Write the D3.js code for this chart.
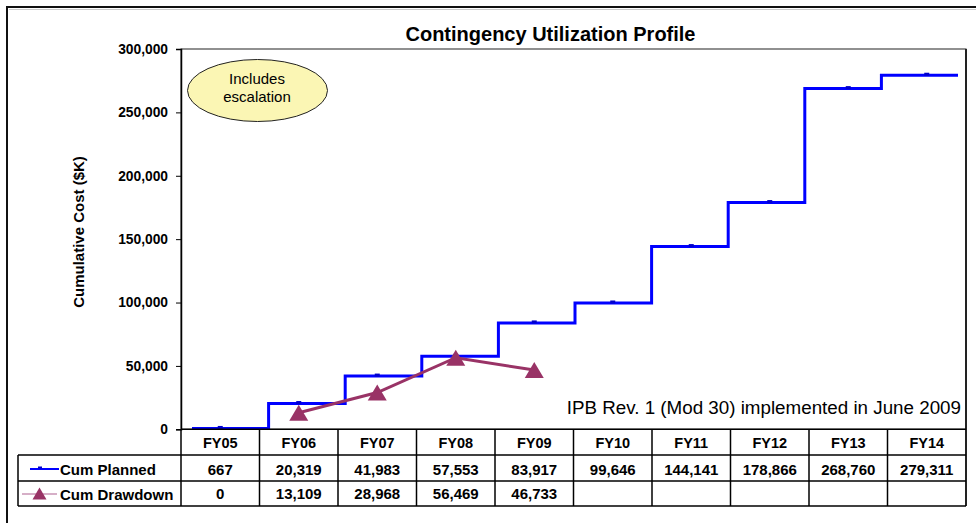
<!DOCTYPE html>
<html><head><meta charset="utf-8">
<script src="https://cdn.jsdelivr.net/npm/d3@7"></script>
<style>body{margin:0;background:#fff}svg{display:block}text{font-family:"Liberation Sans",Arial,sans-serif}</style>
</head><body><svg id="c" width="976" height="523"></svg>
<script>
const categories = ["FY05","FY06","FY07","FY08","FY09","FY10","FY11","FY12","FY13","FY14"];
const cumPlanned = [667,20319,41983,57553,83917,99646,144141,178866,268760,279311];
const cumDrawdown = [0,13109,28968,56469,46733,null,null,null,null,null];
const yTicks = [0,50000,100000,150000,200000,250000,300000];
const seriesNames = ["Cum Planned","Cum Drawdown"];
const title = "Contingency Utilization Profile";
const yLabel = "Cumulative Cost ($K)";
const noteText = "IPB Rev. 1 (Mod 30) implemented in June 2009";
const calloutLines = ["Includes","escalation"];

const svg = d3.select("#c");
const L = 181, R = 966, T = 49, B = 429.3;
const fmt = d3.format(",");

// outer chart border
svg.append("rect").attr("x",7).attr("y",7).attr("width",1000).attr("height",600)
  .attr("fill","#fff").attr("stroke","#111").attr("stroke-width",2);
svg.append("line").attr("x1",9).attr("x2",976).attr("y1",9.5).attr("y2",9.5).attr("stroke","#ccc").attr("stroke-width",1);

const x = d3.scaleBand().domain(categories).range([L,R]);
const y = d3.scaleLinear().domain([0,300000]).range([B,T]);
const xs = d3.scaleLinear().domain([0,categories.length]).range([L+11,R-8]);

// plot area border
svg.append("rect").attr("x",L).attr("y",T).attr("width",R-L).attr("height",B-T)
  .attr("fill","none").attr("stroke","#222").attr("stroke-width",1);
svg.append("line").attr("x1",R).attr("x2",R).attr("y1",T).attr("y2",506).attr("stroke","#222").attr("stroke-width",2);

// y axis
const ya = svg.append("g").attr("transform",`translate(${L},0)`)
  .call(d3.axisLeft(y).tickValues(yTicks).tickFormat(fmt).tickSize(5).tickPadding(8));
ya.select(".domain").attr("stroke","#000").attr("stroke-width",1.5);
ya.selectAll(".tick line").attr("stroke","#000");
ya.selectAll("text").attr("font-size",13.8).attr("font-weight","bold").attr("fill","#000");

svg.append("text").attr("transform",`translate(84,232) rotate(-90)`)
  .attr("text-anchor","middle").attr("font-size",15).attr("font-weight","bold").text(yLabel);

svg.append("text").attr("x",550.5).attr("y",41).attr("text-anchor","middle")
  .attr("font-size",20).attr("font-weight","bold").text(title);

// callout ellipse
svg.append("ellipse").attr("cx",257.5).attr("cy",90.5).attr("rx",70).attr("ry",31)
  .attr("fill","#fbf6b4").attr("stroke","#222").attr("stroke-width",1);
svg.selectAll("text.call").data(calloutLines).join("text").attr("class","call")
  .attr("x",257).attr("y",(d,i)=>83.5+i*18.5).attr("text-anchor","middle")
  .attr("font-size",15).text(d=>d);

// note
svg.append("text").attr("x",961).attr("y",414).attr("text-anchor","end")
  .attr("font-size",18.8).text(noteText);

// planned step line
const stepPts = cumPlanned.map((v,i)=>[i,v]).concat([[categories.length,cumPlanned[cumPlanned.length-1]]]);
svg.append("path").datum(stepPts)
  .attr("d",d3.line().x(d=>xs(d[0])).y(d=>y(d[1])).curve(d3.curveStepAfter))
  .attr("fill","none").attr("stroke","#0000ff").attr("stroke-width",3);
svg.selectAll("rect.pm").data(cumPlanned).join("rect").attr("class","pm")
  .attr("x",(d,i)=>x(categories[i])+x.bandwidth()/2-2.5).attr("y",d=>y(d)-2.5)
  .attr("width",5).attr("height",3).attr("fill","#0000cc");

// drawdown line
const dd = cumDrawdown.map((v,i)=>({c:categories[i],v})).filter(d=>d.v!=null && d.v>0);
svg.append("path").datum(dd)
  .attr("d",d3.line().x(d=>x(d.c)+x.bandwidth()/2).y(d=>y(d.v)))
  .attr("fill","none").attr("stroke","#993366").attr("stroke-width",3);
const tri = (cx,cy,w,h)=>`M${cx-w/2},${cy+h/2}L${cx},${cy-h/2}L${cx+w/2},${cy+h/2}Z`;
svg.selectAll("path.tri").data(dd).join("path").attr("class","tri")
  .attr("d",d=>tri(x(d.c)+x.bandwidth()/2,y(d.v),19,16)).attr("fill","#993366");

// data table
const rowBot = 506, TL = 18;
const tg = svg.append("g").attr("stroke","#000").attr("stroke-width",1.5);
tg.append("line").attr("x1",L).attr("x2",R).attr("y1",B).attr("y2",B);
[455,481,506].forEach(yy=>tg.append("line").attr("x1",TL).attr("x2",R).attr("y1",yy).attr("y2",yy));
tg.append("line").attr("x1",TL).attr("x2",TL).attr("y1",455).attr("y2",rowBot);
categories.forEach(c=>tg.append("line").attr("x1",x(c)).attr("x2",x(c)).attr("y1",B).attr("y2",rowBot));

svg.selectAll("text.hd").data(categories).join("text").attr("class","hd")
  .attr("x",d=>x(d)+x.bandwidth()/2).attr("y",448).attr("text-anchor","middle")
  .attr("font-size",14.5).attr("font-weight","bold").text(d=>d);
svg.selectAll("text.r1").data(cumPlanned).join("text").attr("class","r1")
  .attr("x",(d,i)=>x(categories[i])+x.bandwidth()/2).attr("y",474.5).attr("text-anchor","middle")
  .attr("font-size",15).attr("font-weight","bold").text(d=>fmt(d));
svg.selectAll("text.r2").data(cumDrawdown).join("text").attr("class","r2")
  .attr("x",(d,i)=>x(categories[i])+x.bandwidth()/2).attr("y",499).attr("text-anchor","middle")
  .attr("font-size",15).attr("font-weight","bold").text(d=>d==null?"":fmt(d));

// legend keys
svg.append("line").attr("x1",30).attr("x2",59).attr("y1",469).attr("y2",469).attr("stroke","#0000ff").attr("stroke-width",2);
svg.append("rect").attr("x",38).attr("y",466.5).attr("width",4).attr("height",2).attr("fill","#0000cc");
svg.append("line").attr("x1",22).attr("x2",57).attr("y1",494).attr("y2",494).attr("stroke","#c995b5").attr("stroke-width",1.5);
svg.append("path").attr("d",tri(39.5,493.5,14,12)).attr("fill","#993366");
svg.selectAll("text.lg").data(seriesNames).join("text").attr("class","lg")
  .attr("x",60).attr("y",(d,i)=>475+i*25).attr("font-size",15).attr("font-weight","bold").text(d=>d);
</script></body></html>
